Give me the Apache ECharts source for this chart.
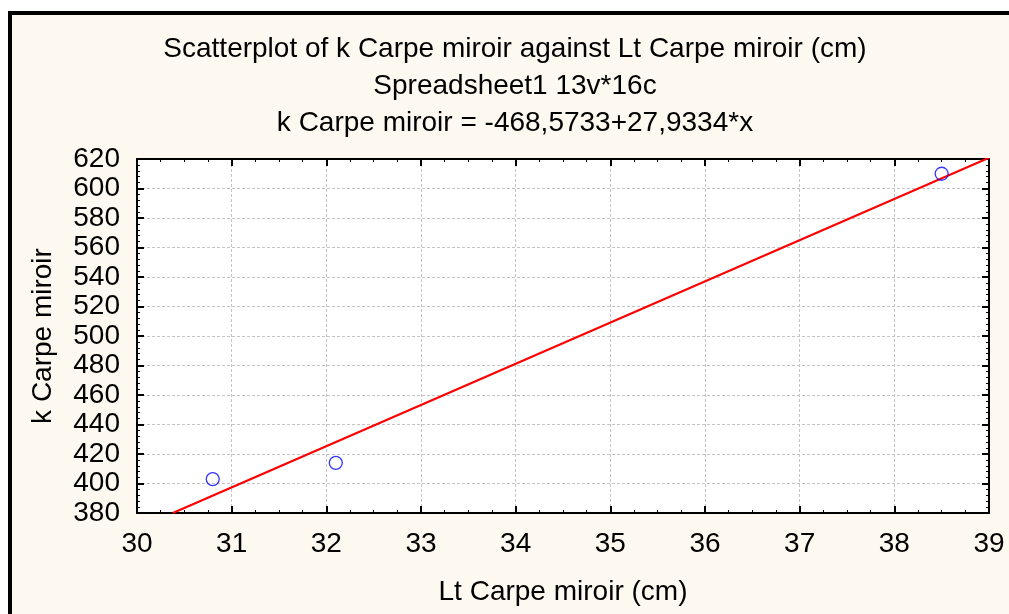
<!DOCTYPE html>
<html>
<head>
<meta charset="utf-8">
<script src="https://cdn.jsdelivr.net/npm/echarts@6/dist/echarts.min.js"></script>
<style>
html,body{margin:0;padding:0;background:#fff;}
#c{width:1009px;height:614px;}
</style>
</head>
<body>
<div id="c"></div>
<script>
// Data
const titleLines = [
  'Scatterplot of k Carpe miroir against Lt Carpe miroir (cm)',
  'Spreadsheet1 13v*16c',
  'k Carpe miroir = -468,5733+27,9334*x'
];
const xName = 'Lt Carpe miroir (cm)';
const yName = 'k Carpe miroir';
const lengthCm = [30.8, 32.1, 38.5];
const kValues = [403, 414, 610];
const intercept = -468.5733;
const slope = 27.9334;
const xMin = 30, xMax = 39, xStep = 1;
const yMin = 380, yMax = 620, yStep = 20;

const points = lengthCm.map((x, i) => [x, kValues[i]]);
const fitX0 = (yMin - intercept) / slope;
const fitLine = [[fitX0, intercept + slope * fitX0], [xMax, intercept + slope * xMax]];

const FONT = '"Liberation Sans", Arial, sans-serif';
const FS = 28;
const chart = echarts.init(document.getElementById('c'));

function axisBase(extra) {
  return Object.assign({
    axisLine: {show: true, onZero: false, lineStyle: {color: '#000', width: 2}},
    axisTick: {show: true, inside: true, length: 7, lineStyle: {color: '#000', width: 2}},
  }, extra);
}

chart.setOption({
  backgroundColor: '#fdf9f0',
  animation: false,
  textStyle: {fontFamily: FONT},
  grid: {left: 137, top: 159, right: 20, bottom: 101, show: true, backgroundColor: '#ffffff', borderWidth: 0},
  graphic: [
    {type: 'rect', z: 100, shape: {x: 0, y: 0, width: 1009, height: 11}, style: {fill: '#ffffff'}},
    {type: 'rect', z: 100, shape: {x: 0, y: 0, width: 8, height: 614}, style: {fill: '#ffffff'}},
    {type: 'rect', z: 100, shape: {x: 8, y: 11, width: 1001, height: 4}, style: {fill: '#000000'}},
    {type: 'rect', z: 100, shape: {x: 8, y: 11, width: 4, height: 603}, style: {fill: '#000000'}}
  ].concat(titleLines.map((t, i) => ({
    type: 'text',
    style: {text: t, x: 515, y: 49 + i * 37, align: 'center', verticalAlign: 'middle', fontSize: FS, fontFamily: FONT, fill: '#000'}
  }))),
  xAxis: [
    axisBase({
      type: 'value', min: xMin, max: xMax, interval: xStep, position: 'bottom',
      minorTick: {show: true, splitNumber: 4, length: 3, lineStyle: {color: '#000', width: 1}},
      axisLabel: {fontSize: FS, color: '#000', margin: 17, fontFamily: FONT},
      splitLine: {show: true, lineStyle: {color: '#c4c4c4', type: [3, 2], width: 1}},
      name: xName, nameLocation: 'middle', nameGap: 65,
      nameTextStyle: {fontSize: FS, color: '#000', fontFamily: FONT}
    }),
    axisBase({
      type: 'value', min: xMin, max: xMax, interval: xStep, position: 'top',
      minorTick: {show: true, splitNumber: 4, length: 3, lineStyle: {color: '#000', width: 1}},
      axisLabel: {show: false}, splitLine: {show: false}
    })
  ],
  yAxis: [
    axisBase({
      type: 'value', min: yMin, max: yMax, interval: yStep, position: 'left',
      minorTick: {show: true, splitNumber: 5, length: 3, lineStyle: {color: '#000', width: 1}},
      axisLabel: {fontSize: FS, color: '#000', margin: 17, fontFamily: FONT},
      splitLine: {show: true, lineStyle: {color: '#c4c4c4', type: [3, 2], width: 1}},
      name: yName, nameLocation: 'middle', nameGap: 80,
      nameTextStyle: {fontSize: FS, color: '#000', fontFamily: FONT}
    }),
    axisBase({
      type: 'value', min: yMin, max: yMax, interval: yStep, position: 'right',
      minorTick: {show: true, splitNumber: 5, length: 3, lineStyle: {color: '#000', width: 1}},
      axisLabel: {show: false}, splitLine: {show: false}
    })
  ],
  series: [
    {
      type: 'line', data: fitLine, xAxisIndex: 0, yAxisIndex: 0,
      showSymbol: false, symbol: 'none', clip: true,
      lineStyle: {color: '#ff0000', width: 2.2}, z: 3
    },
    {
      type: 'scatter', data: points, xAxisIndex: 0, yAxisIndex: 0,
      symbol: 'circle', symbolSize: 13,
      itemStyle: {color: 'rgba(0,0,0,0)', borderColor: '#0000ff', borderWidth: 1.3}, z: 4
    }
  ]
});
</script>
</body>
</html>
